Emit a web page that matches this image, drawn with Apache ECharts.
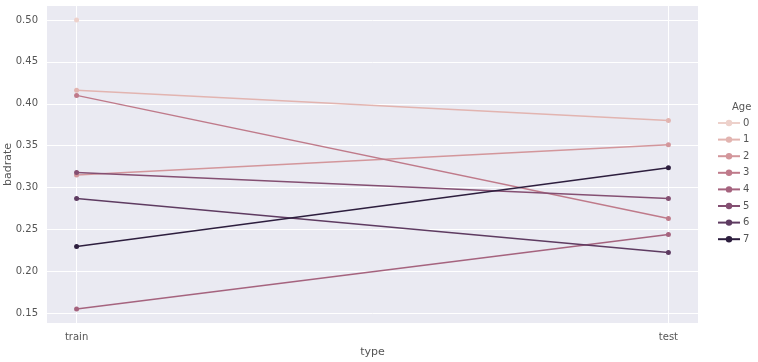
<!DOCTYPE html>
<html>
<head>
<meta charset="utf-8">
<script src="https://cdn.jsdelivr.net/npm/echarts@6/dist/echarts.min.js"></script>
<style>html,body{margin:0;padding:0;background:#fff}#c{width:758px;height:362px}</style>
</head>
<body>
<div id="c"></div>
<script>
const categories = ['train', 'test'];
const ages = ['0', '1', '2', '3', '4', '5', '6', '7'];
const age0 = [0.500, null];
const age1 = [0.416, 0.380];
const age2 = [0.315, 0.351];
const age3 = [0.410, 0.263];
const age4 = [0.155, 0.244];
const age5 = [0.318, 0.287];
const age6 = [0.287, 0.2225];
const age7 = [0.2297, 0.3236];
const yTicks = [0.15, 0.20, 0.25, 0.30, 0.35, 0.40, 0.45, 0.50];
const colors = ['#edd1cb', '#e2b4b0', '#d3969b', '#bf7a8a', '#a5637e', '#844f72', '#5e3b61', '#2d1e3e'];

const seriesValues = [age0, age1, age2, age3, age4, age5, age6, age7];
const txt = '#555';
const chart = echarts.init(document.getElementById('c'), null, {renderer: 'canvas'});
chart.setOption({
  animation: false,
  backgroundColor: '#fff',
  textStyle: {fontFamily: 'DejaVu Sans'},
  grid: {left: 47, right: 60, top: 6, bottom: 39, show: true, backgroundColor: '#eaeaf2', borderWidth: 0, containLabel: false, outerBoundsMode: 'none'},
  title: {text: 'Age', left: 727, top: 97, textStyle: {fontSize: 10, fontWeight: 'normal', color: txt, fontFamily: 'DejaVu Sans'}},
  legend: {
    orient: 'vertical', left: 712, top: 113, itemWidth: 22, itemHeight: 8, itemGap: 6.6,
    textStyle: {fontSize: 10, color: txt, padding: [0, 0, 0, -2]},
    data: ages.map(a => ({name: a}))
  },
  xAxis: {
    type: 'value', min: -0.05, max: 1.05,
    name: 'type', nameLocation: 'middle', nameGap: 24, nameMoveOverlap: false,
    nameTextStyle: {fontSize: 11, color: txt},
    axisLine: {show: false},
    axisTick: {show: false, customValues: [0, 1]},
    axisLabel: {customValues: [0, 1], fontSize: 10, color: txt, margin: 9, formatter: v => categories[Math.round(v)]},
    splitLine: {show: true, lineStyle: {color: '#fff', width: 1}}
  },
  yAxis: {
    type: 'value', min: 0.1383, max: 0.5167,
    name: 'badrate', nameLocation: 'middle', nameGap: 39, nameMoveOverlap: false,
    nameTextStyle: {fontSize: 11, color: txt, verticalAlign: 'middle'},
    axisLine: {show: false},
    axisTick: {show: false, customValues: yTicks},
    axisLabel: {customValues: yTicks, fontSize: 10, color: txt, margin: 9, formatter: v => v.toFixed(2)},
    splitLine: {show: true, lineStyle: {color: '#fff', width: 1}}
  },
  series: seriesValues.map((vals, i) => ({
    name: ages[i], type: 'line',
    data: vals.map((v, j) => [j, v]),
    color: colors[i],
    symbol: 'circle', symbolSize: 5,
    lineStyle: {width: 1.5, color: colors[i]},
    itemStyle: {color: colors[i]},
    connectNulls: false
  }))
});
</script>
</body>
</html>
